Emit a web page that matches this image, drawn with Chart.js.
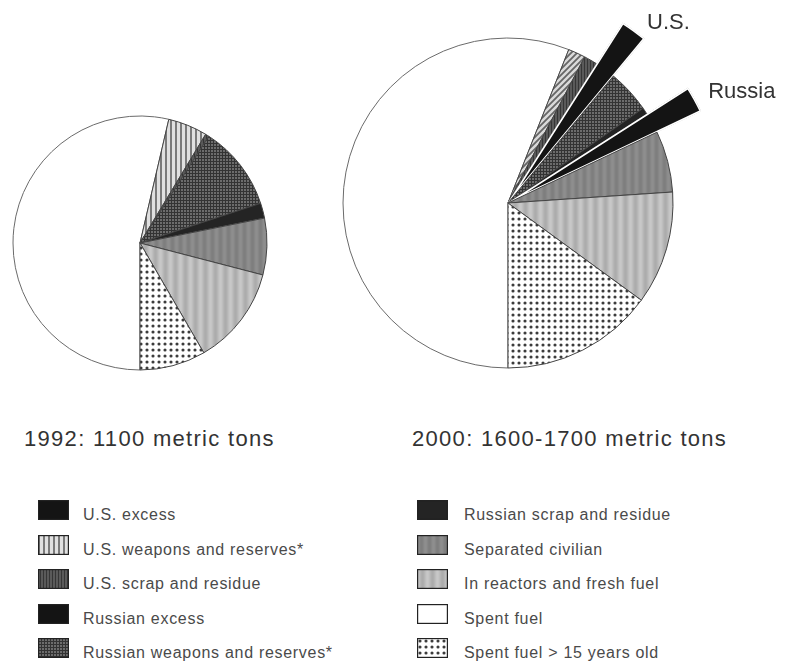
<!DOCTYPE html>
<html>
<head>
<meta charset="utf-8">
<script src="https://cdn.jsdelivr.net/npm/chart.js@4.4.1/dist/chart.umd.min.js"></script>
<style>
  html, body { margin: 0; padding: 0; background: #fff; }
  #stage { position: relative; width: 786px; height: 663px; overflow: hidden;
           font-family: "Liberation Sans", Arial, Helvetica, sans-serif; }
  #stage canvas { position: absolute; }
  .title { position: absolute; font-size: 22px; line-height: 22px; color: #333;
           letter-spacing: 1.3px; white-space: nowrap; }
  .leg { position: absolute; font-size: 16px; line-height: 16px; color: #4a4a4a;
         letter-spacing: 0.7px; white-space: nowrap; }
</style>
</head>
<body>
<div id="stage">
  <canvas id="pie1992" width="280" height="260" style="left:0;top:113px"></canvas>
  <canvas id="pie2000" width="486" height="406" style="left:300px;top:0"></canvas>
</div>
<script>
// Plutonium inventories, metric tons (categories listed in legend order)
const categories = [
  'U.S. excess',
  'U.S. weapons and reserves*',
  'U.S. scrap and residue',
  'Russian excess',
  'Russian weapons and reserves*',
  'Russian scrap and residue',
  'Separated civilian',
  'In reactors and fresh fuel',
  'Spent fuel',
  'Spent fuel > 15 years old'
];
const tons1992 = [0, 55, 5, 0, 119, 21, 79, 138, 589, 92];
const tons2000 = [33, 28, 22, 33, 70, 11, 99, 183, 924, 247];
const chartTitles = ['1992: 1100 metric tons', '2000: 1600-1700 metric tons'];
// call-out names for the pulled-out excess slices of 2000
const calloutNames = { 'U.S. excess': 'U.S.', 'Russian excess': 'Russia' };

// clockwise drawing order of the slices (indices into categories), starting at 6 o'clock
const sliceOrder = [8, 1, 2, 0, 4, 5, 3, 6, 7, 9];

// ---- fill patterns ----
function tile(w, h, paint) {
  const c = document.createElement('canvas');
  c.width = w; c.height = h;
  const g = c.getContext('2d');
  paint(g, w, h);
  return g.createPattern(c, 'repeat');
}
function bands(period, base, amp) {
  return tile(period, 1, g => {
    for (let x = 0; x < period; x++) {
      const v = Math.round(base + amp * Math.cos(2 * Math.PI * x / period));
      g.fillStyle = `rgb(${v},${v},${v})`;
      g.fillRect(x, 0, 1, 1);
    }
  });
}
const fillVStripes = tile(5, 5, g => {
  g.fillStyle = '#e0e0e0'; g.fillRect(0, 0, 5, 5);
  g.fillStyle = '#7a7a7a'; g.fillRect(0, 0, 2, 5);
});
const fillDStripes = tile(6, 6, g => {
  g.fillStyle = '#dadada'; g.fillRect(0, 0, 6, 6);
  g.strokeStyle = '#666'; g.lineWidth = 1.8;
  g.beginPath();
  g.moveTo(-1, 7); g.lineTo(7, -1);
  g.moveTo(-1, 1); g.lineTo(1, -1);
  g.moveTo(5, 7); g.lineTo(7, 5);
  g.stroke();
});
const fillUsScrap = tile(3, 1, g => {
  g.fillStyle = '#5a5a5a'; g.fillRect(0, 0, 3, 1);
  g.fillStyle = '#363636'; g.fillRect(2, 0, 1, 1);
});
const fillGrid = tile(3, 3, g => {
  g.fillStyle = '#6c6c6c'; g.fillRect(0, 0, 3, 3);
  g.fillStyle = '#333333'; g.fillRect(0, 0, 3, 1); g.fillRect(0, 0, 1, 3);
});
const fillDots = tile(6, 6, g => {
  g.fillStyle = '#ffffff'; g.fillRect(0, 0, 6, 6);
  g.fillStyle = '#3c3c3c';
  g.beginPath(); g.arc(3, 3, 1.55, 0, Math.PI * 2); g.fill();
});
const fillSeparated = bands(8, 134, 8);
const fillReactors = bands(10, 186, 14);

// one fill per category
const fills = [
  '#141414', fillVStripes, fillUsScrap, '#141414', fillGrid,
  '#242424', fillSeparated, fillReactors, '#ffffff', fillDots
];
const fills2000 = fills.slice();
fills2000[1] = fillDStripes;

// ---- plugin: pull selected slices outward and name them ----
const pullOut = {
  id: 'pullOut',
  afterDatasetUpdate(chart, args, opts) {
    if (!opts || !opts.names) return;
    args.meta.data.forEach((arc, i) => {
      if (opts.names[chart.data.labels[i]]) arc.outerRadius = opts.radius;
    });
  },
  afterDatasetsDraw(chart, args, opts) {
    if (!opts || !opts.names) return;
    const ctx = chart.ctx;
    const meta = chart.getDatasetMeta(0);
    ctx.save();
    ctx.font = '22px "Liberation Sans", Arial, sans-serif';
    ctx.fillStyle = '#333';
    ctx.textAlign = 'left';
    ctx.textBaseline = 'alphabetic';
    meta.data.forEach((arc, i) => {
      const name = opts.names[chart.data.labels[i]];
      if (!name) return;
      const mid = (arc.startAngle + arc.endAngle) / 2;
      const tx = arc.x + Math.cos(mid) * arc.outerRadius;
      const ty = arc.y + Math.sin(mid) * arc.outerRadius;
      ctx.fillText(name, tx + opts.dx, ty + opts.dy);
    });
    ctx.restore();
  }
};

function buildPie(canvasId, values, cfg) {
  const labels = sliceOrder.map(i => categories[i]);
  const data = sliceOrder.map(i => values[i]);
  const bg = sliceOrder.map(i => cfg.fills[i]);
  const pulled = i => !!(cfg.pull && cfg.pull.names[labels[i]]);
  return new Chart(document.getElementById(canvasId), {
    type: 'pie',
    data: {
      labels,
      datasets: [{
        data,
        backgroundColor: bg,
        borderColor: ctx => pulled(ctx.dataIndex) ? '#ffffff' : (labels[ctx.dataIndex] === 'Spent fuel' ? '#6a6a6a' : '#444'),
        borderWidth: ctx => pulled(ctx.dataIndex) ? 1.3 : 1,
        borderAlign: ctx => pulled(ctx.dataIndex) ? 'inner' : 'center',
        rotation: 180,
        radius: cfg.radius,
        clip: false
      }]
    },
    options: {
      responsive: false,
      animation: false,
      events: [],
      rotation: 180,
      radius: cfg.radius,
      layout: { padding: cfg.padding || 0 },
      plugins: {
        legend: { display: false },
        tooltip: { enabled: false },
        title: { display: false },
        pullOut: cfg.pull || {}
      }
    },
    plugins: [pullOut]
  });
}

buildPie('pie1992', tons1992, { fills, radius: 127 });
buildPie('pie2000', tons2000, {
  fills: fills2000,
  radius: 165,
  padding: { left: 0, right: 70, top: 0, bottom: 0 },
  pull: { names: calloutNames, radius: 214, dx: 13, dy: -1 }
});

// ---- titles and legend ----
const stage = document.getElementById('stage');
function addText(cls, text, left, top) {
  const d = document.createElement('div');
  d.className = cls;
  d.textContent = text;
  d.style.left = left + 'px';
  d.style.top = top + 'px';
  stage.appendChild(d);
}
addText('title', chartTitles[0], 24, 428);
addText('title', chartTitles[1], 412, 428);

categories.forEach((name, i) => {
  const col = Math.floor(i / 5), row = i % 5;
  const boxLeft = col ? 417 : 38;
  const y = 500 + row * 34.5;
  const sw = document.createElement('canvas');
  sw.width = 31; sw.height = 20;
  sw.style.left = boxLeft + 'px';
  sw.style.top = Math.round(y) + 'px';
  const g = sw.getContext('2d');
  g.fillStyle = fills[i];
  g.fillRect(0, 0, 31, 20);
  g.strokeStyle = '#222';
  g.lineWidth = 1.2;
  g.strokeRect(0.6, 0.6, 29.8, 18.8);
  stage.appendChild(sw);
  addText('leg', name, col ? 464 : 83, Math.round(y + 7));
});
</script>
</body>
</html>
